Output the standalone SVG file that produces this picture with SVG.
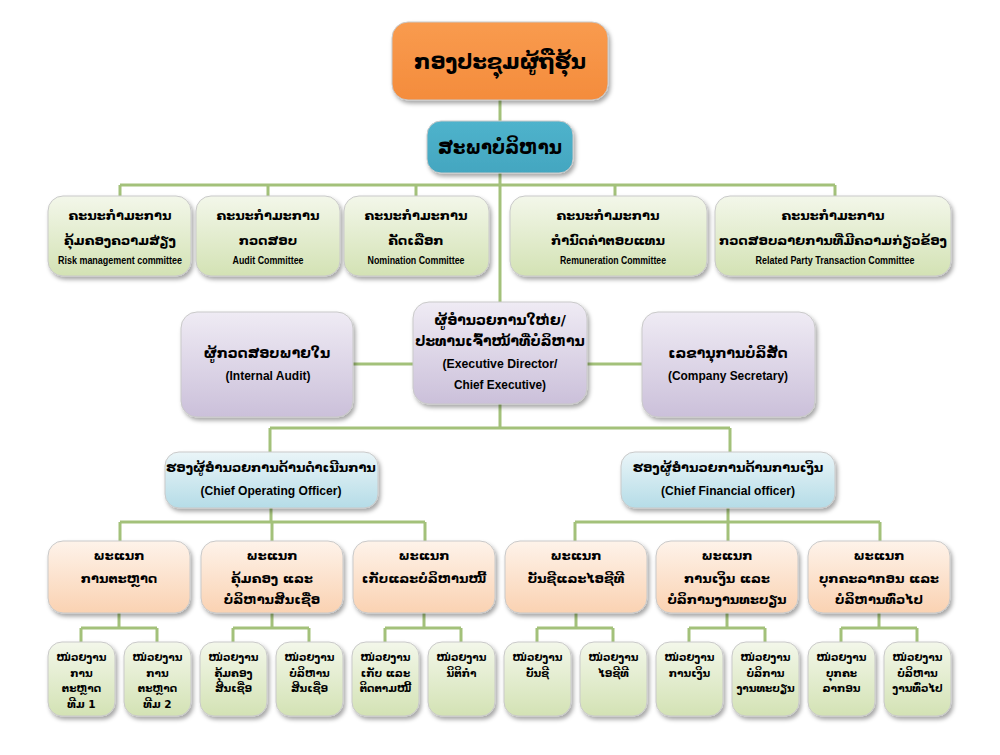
<svg xmlns="http://www.w3.org/2000/svg" width="1000" height="755" viewBox="0 0 1000 755">
<defs>
<filter id="sh" x="-20%" y="-20%" width="140%" height="150%">
<feDropShadow dx="2" dy="3" stdDeviation="2" flood-color="#000" flood-opacity="0.35"/>
</filter>
<linearGradient id="gOr" x1="0" y1="0" x2="0" y2="1"><stop offset="0" stop-color="#F99B4F"/><stop offset="1" stop-color="#F48C3C"/></linearGradient>
<linearGradient id="gTe" x1="0" y1="0" x2="0" y2="1"><stop offset="0" stop-color="#4FB3CC"/><stop offset="1" stop-color="#43A6C0"/></linearGradient>
<linearGradient id="gGr" x1="0" y1="0" x2="0" y2="1"><stop offset="0" stop-color="#F3F7EA"/><stop offset="1" stop-color="#D3E2B4"/></linearGradient>
<linearGradient id="gPu" x1="0" y1="0" x2="0" y2="1"><stop offset="0" stop-color="#EFEBF4"/><stop offset="1" stop-color="#CBC0DA"/></linearGradient>
<linearGradient id="gBl" x1="0" y1="0" x2="0" y2="1"><stop offset="0" stop-color="#EAF5F8"/><stop offset="1" stop-color="#B5DCE7"/></linearGradient>
<linearGradient id="gPe" x1="0" y1="0" x2="0" y2="1"><stop offset="0" stop-color="#FEF3EA"/><stop offset="1" stop-color="#FAD2B2"/></linearGradient>
</defs>
<style>
.b{filter:url(#sh);stroke:#C9C9C9;stroke-width:1}
.lo{font-family:"DejaVu Sans","Noto Sans",sans-serif;font-weight:bold;fill:#000;text-anchor:middle}
.en{font-family:"Liberation Sans Narrow","Liberation Sans",Arial,sans-serif;font-weight:bold;fill:#000;text-anchor:middle}
.c{fill:none;stroke:#A3C17A;stroke-width:3}
</style>
<rect width="1000" height="755" fill="#fff"/>
<g id="connectors">
<path class="c" d="M500,100V121M500,173V302M120,185H835M120,185V196M268,185V196M416,185V196M615,185V196M835,185V196"/>
<path class="c" d="M353,364H413M587,364H642M500,404V428M270,428H730M270,428V452M730,428V452"/>
<path class="c" d="M271,508V522M120,522H425M120,522V541M272,522V541M425,522V541"/>
<path class="c" d="M728,508V522M575,522H880M575,522V541M728,522V541M880,522V541"/>
<path class="c" d="M119,613V628M81,628H157M81,628V642M157,628V642"/>
<path class="c" d="M272,613V628M233,628H309M233,628V642M309,628V642"/>
<path class="c" d="M424,613V628M385,628H461M385,628V642M461,628V642"/>
<path class="c" d="M576,613V628M537,628H613M537,628V642M613,628V642"/>
<path class="c" d="M727,613V628M689,628H765M689,628V642M765,628V642"/>
<path class="c" d="M879,613V628M841,628H917M841,628V642M917,628V642"/>
</g>
<g id="shareholders"><rect class="b" x="392" y="22" width="216" height="78" rx="16" fill="url(#gOr)"/><text class="lo" x="500" y="69" font-size="22" textLength="172" lengthAdjust="spacingAndGlyphs">ກອງປະຊຸມຜູ້ຖືຮຸ້ນ</text></g>
<g id="board"><rect class="b" x="427" y="121" width="146" height="52" rx="14" fill="url(#gTe)"/><text class="lo" x="500" y="154" font-size="19" textLength="124" lengthAdjust="spacingAndGlyphs">ສະພາບໍລິຫານ</text></g>
<g id="risk"><rect class="b" x="48" y="196" width="143" height="80" rx="15" fill="url(#gGr)"/><text class="lo" x="120" y="220" font-size="13">ຄະນະກຳມະການ</text><text class="lo" x="120" y="245" font-size="13">ຄຸ້ມຄອງຄວາມສ່ຽງ</text><text class="en" x="120" y="264" font-size="10.5" textLength="124" lengthAdjust="spacingAndGlyphs">Risk management committee</text></g>
<g id="audit"><rect class="b" x="196" y="196" width="144" height="80" rx="15" fill="url(#gGr)"/><text class="lo" x="268" y="220" font-size="13">ຄະນະກຳມະການ</text><text class="lo" x="268" y="245" font-size="13">ກວດສອບ</text><text class="en" x="268" y="264" font-size="10.5" textLength="71" lengthAdjust="spacingAndGlyphs">Audit Committee</text></g>
<g id="nomination"><rect class="b" x="344" y="196" width="145" height="80" rx="15" fill="url(#gGr)"/><text class="lo" x="416" y="220" font-size="13">ຄະນະກຳມະການ</text><text class="lo" x="416" y="245" font-size="13">ຄັດເລືອກ</text><text class="en" x="416" y="264" font-size="10.5" textLength="97" lengthAdjust="spacingAndGlyphs">Nomination Committee</text></g>
<g id="remuneration"><rect class="b" x="510" y="196" width="197" height="80" rx="15" fill="url(#gGr)"/><text class="lo" x="608" y="220" font-size="13">ຄະນະກຳມະການ</text><text class="lo" x="608" y="245" font-size="13">ກຳນົດຄ່າຕອບແທນ</text><text class="en" x="613" y="264" font-size="10.5" textLength="106" lengthAdjust="spacingAndGlyphs">Remuneration Committee</text></g>
<g id="related"><rect class="b" x="715" y="196" width="236" height="80" rx="15" fill="url(#gGr)"/><text class="lo" x="833" y="220" font-size="13">ຄະນະກຳມະການ</text><text class="lo" x="833" y="245" font-size="13">ກວດສອບລາຍການທີ່ມີຄວາມກ່ຽວຂ້ອງ</text><text class="en" x="835" y="264" font-size="10.5" textLength="159" lengthAdjust="spacingAndGlyphs">Related Party Transaction Committee</text></g>
<g id="internal-audit"><rect class="b" x="181" y="312" width="172" height="105" rx="16" fill="url(#gPu)"/><text class="lo" x="267" y="358" font-size="14">ຜູ້ກວດສອບພາຍໃນ</text><text class="en" x="268" y="380" font-size="13.5" textLength="85" lengthAdjust="spacingAndGlyphs">(Internal Audit)</text></g>
<g id="ceo"><rect class="b" x="413" y="302" width="174" height="102" rx="16" fill="url(#gPu)"/><text class="lo" x="500" y="325" font-size="14">ຜູ້ອຳນວຍການໃຫ່ຍ/</text><text class="lo" x="500" y="346" font-size="14">ປະທານເຈົ້າໜ້າທີ່ບໍລິຫານ</text><text class="en" x="500" y="368" font-size="13.5" textLength="115" lengthAdjust="spacingAndGlyphs">(Executive Director/</text><text class="en" x="500" y="389" font-size="13.5" textLength="92" lengthAdjust="spacingAndGlyphs">Chief Executive)</text></g>
<g id="secretary"><rect class="b" x="642" y="312" width="173" height="105" rx="16" fill="url(#gPu)"/><text class="lo" x="728" y="358" font-size="14">ເລຂານຸການບໍລິສັດ</text><text class="en" x="728" y="380" font-size="13.5" textLength="120" lengthAdjust="spacingAndGlyphs">(Company Secretary)</text></g>
<g id="coo"><rect class="b" x="165" y="452" width="213" height="56" rx="14" fill="url(#gBl)"/><text class="lo" x="271" y="472" font-size="13">ຮອງຜູ້ອຳນວຍການດ້ານດຳເນີນການ</text><text class="en" x="271" y="495" font-size="13.5" textLength="141" lengthAdjust="spacingAndGlyphs">(Chief Operating Officer)</text></g>
<g id="cfo"><rect class="b" x="621" y="452" width="214" height="56" rx="14" fill="url(#gBl)"/><text class="lo" x="728" y="472" font-size="13">ຮອງຜູ້ອຳນວຍການດ້ານການເງິນ</text><text class="en" x="728" y="495" font-size="13.5" textLength="134" lengthAdjust="spacingAndGlyphs">(Chief Financial officer)</text></g>
<g id="dept-marketing"><rect class="b" x="48" y="541" width="142" height="72" rx="15" fill="url(#gPe)"/><text class="lo" x="119" y="560" font-size="13">ພະແນກ</text><text class="lo" x="119" y="583" font-size="13">ການຕະຫຼາດ</text></g>
<g id="dept-credit"><rect class="b" x="201" y="541" width="142" height="72" rx="15" fill="url(#gPe)"/><text class="lo" x="272" y="560" font-size="13">ພະແນກ</text><text class="lo" x="272" y="583" font-size="13">ຄຸ້ມຄອງ ແລະ</text><text class="lo" x="272" y="604" font-size="13">ບໍລິຫານສິນເຊື່ອ</text></g>
<g id="dept-collection"><rect class="b" x="353" y="541" width="142" height="72" rx="15" fill="url(#gPe)"/><text class="lo" x="424" y="560" font-size="13">ພະແນກ</text><text class="lo" x="424" y="583" font-size="13">ເກັບແລະບໍລິຫານໜີ້</text></g>
<g id="dept-accounting"><rect class="b" x="505" y="541" width="142" height="72" rx="15" fill="url(#gPe)"/><text class="lo" x="576" y="560" font-size="13">ພະແນກ</text><text class="lo" x="576" y="583" font-size="13">ບັນຊີແລະໄອຊີທີ</text></g>
<g id="dept-finance"><rect class="b" x="656" y="541" width="142" height="72" rx="15" fill="url(#gPe)"/><text class="lo" x="727" y="560" font-size="13">ພະແນກ</text><text class="lo" x="727" y="583" font-size="13">ການເງິນ ແລະ</text><text class="lo" x="727" y="604" font-size="13">ບໍລິການງານທະບຽນ</text></g>
<g id="dept-hr"><rect class="b" x="808" y="541" width="142" height="72" rx="15" fill="url(#gPe)"/><text class="lo" x="879" y="560" font-size="13">ພະແນກ</text><text class="lo" x="879" y="583" font-size="13">ບຸກຄະລາກອນ ແລະ</text><text class="lo" x="879" y="604" font-size="13">ບໍລິຫານທົ່ວໄປ</text></g>
<g id="unit-mkt1"><rect class="b" x="48" y="642" width="67" height="74" rx="14" fill="url(#gGr)"/><text class="lo" x="81.5" y="661" font-size="10.5">ໜ່ວຍງານ</text><text class="lo" x="81.5" y="677" font-size="10.5">ການ</text><text class="lo" x="81.5" y="692" font-size="10.5">ຕະຫຼາດ</text><text class="lo" x="81.5" y="708" font-size="10.5">ທີມ 1</text></g>
<g id="unit-mkt2"><rect class="b" x="124" y="642" width="67" height="74" rx="14" fill="url(#gGr)"/><text class="lo" x="157.5" y="661" font-size="10.5">ໜ່ວຍງານ</text><text class="lo" x="157.5" y="677" font-size="10.5">ການ</text><text class="lo" x="157.5" y="692" font-size="10.5">ຕະຫຼາດ</text><text class="lo" x="157.5" y="708" font-size="10.5">ທີມ 2</text></g>
<g id="unit-credit-mgmt"><rect class="b" x="200" y="642" width="67" height="74" rx="14" fill="url(#gGr)"/><text class="lo" x="233.5" y="661" font-size="10.5">ໜ່ວຍງານ</text><text class="lo" x="233.5" y="677" font-size="10.5">ຄຸ້ມຄອງ</text><text class="lo" x="233.5" y="692" font-size="10.5">ສິນເຊື່ອ</text></g>
<g id="unit-credit-admin"><rect class="b" x="276" y="642" width="67" height="74" rx="14" fill="url(#gGr)"/><text class="lo" x="309.5" y="661" font-size="10.5">ໜ່ວຍງານ</text><text class="lo" x="309.5" y="677" font-size="10.5">ບໍລິຫານ</text><text class="lo" x="309.5" y="692" font-size="10.5">ສິນເຊື່ອ</text></g>
<g id="unit-collection"><rect class="b" x="352" y="642" width="67" height="74" rx="14" fill="url(#gGr)"/><text class="lo" x="385.5" y="661" font-size="10.5">ໜ່ວຍງານ</text><text class="lo" x="385.5" y="677" font-size="10.5">ເກັບ ແລະ</text><text class="lo" x="385.5" y="692" font-size="10.5">ຕິດຕາມໜີ້</text></g>
<g id="unit-legal"><rect class="b" x="428" y="642" width="67" height="74" rx="14" fill="url(#gGr)"/><text class="lo" x="461.5" y="661" font-size="10.5">ໜ່ວຍງານ</text><text class="lo" x="461.5" y="677" font-size="10.5">ນິຕິກຳ</text></g>
<g id="unit-accounting"><rect class="b" x="504" y="642" width="67" height="74" rx="14" fill="url(#gGr)"/><text class="lo" x="537.5" y="661" font-size="10.5">ໜ່ວຍງານ</text><text class="lo" x="537.5" y="677" font-size="10.5">ບັນຊີ</text></g>
<g id="unit-ict"><rect class="b" x="580" y="642" width="67" height="74" rx="14" fill="url(#gGr)"/><text class="lo" x="613.5" y="661" font-size="10.5">ໜ່ວຍງານ</text><text class="lo" x="613.5" y="677" font-size="10.5">ໄອຊີທີ</text></g>
<g id="unit-finance"><rect class="b" x="656" y="642" width="67" height="74" rx="14" fill="url(#gGr)"/><text class="lo" x="689.5" y="661" font-size="10.5">ໜ່ວຍງານ</text><text class="lo" x="689.5" y="677" font-size="10.5">ການເງິນ</text></g>
<g id="unit-registry"><rect class="b" x="732" y="642" width="67" height="74" rx="14" fill="url(#gGr)"/><text class="lo" x="765.5" y="661" font-size="10.5">ໜ່ວຍງານ</text><text class="lo" x="765.5" y="677" font-size="10.5">ບໍລິການ</text><text class="lo" x="765.5" y="692" font-size="10.5">ງານທະບຽນ</text></g>
<g id="unit-hr"><rect class="b" x="808" y="642" width="67" height="74" rx="14" fill="url(#gGr)"/><text class="lo" x="841.5" y="661" font-size="10.5">ໜ່ວຍງານ</text><text class="lo" x="841.5" y="677" font-size="10.5">ບຸກຄະ</text><text class="lo" x="841.5" y="692" font-size="10.5">ລາກອນ</text></g>
<g id="unit-general"><rect class="b" x="884" y="642" width="67" height="74" rx="14" fill="url(#gGr)"/><text class="lo" x="917.5" y="661" font-size="10.5">ໜ່ວຍງານ</text><text class="lo" x="917.5" y="677" font-size="10.5">ບໍລິຫານ</text><text class="lo" x="917.5" y="692" font-size="10.5">ງານທົ່ວໄປ</text></g>
</svg>
